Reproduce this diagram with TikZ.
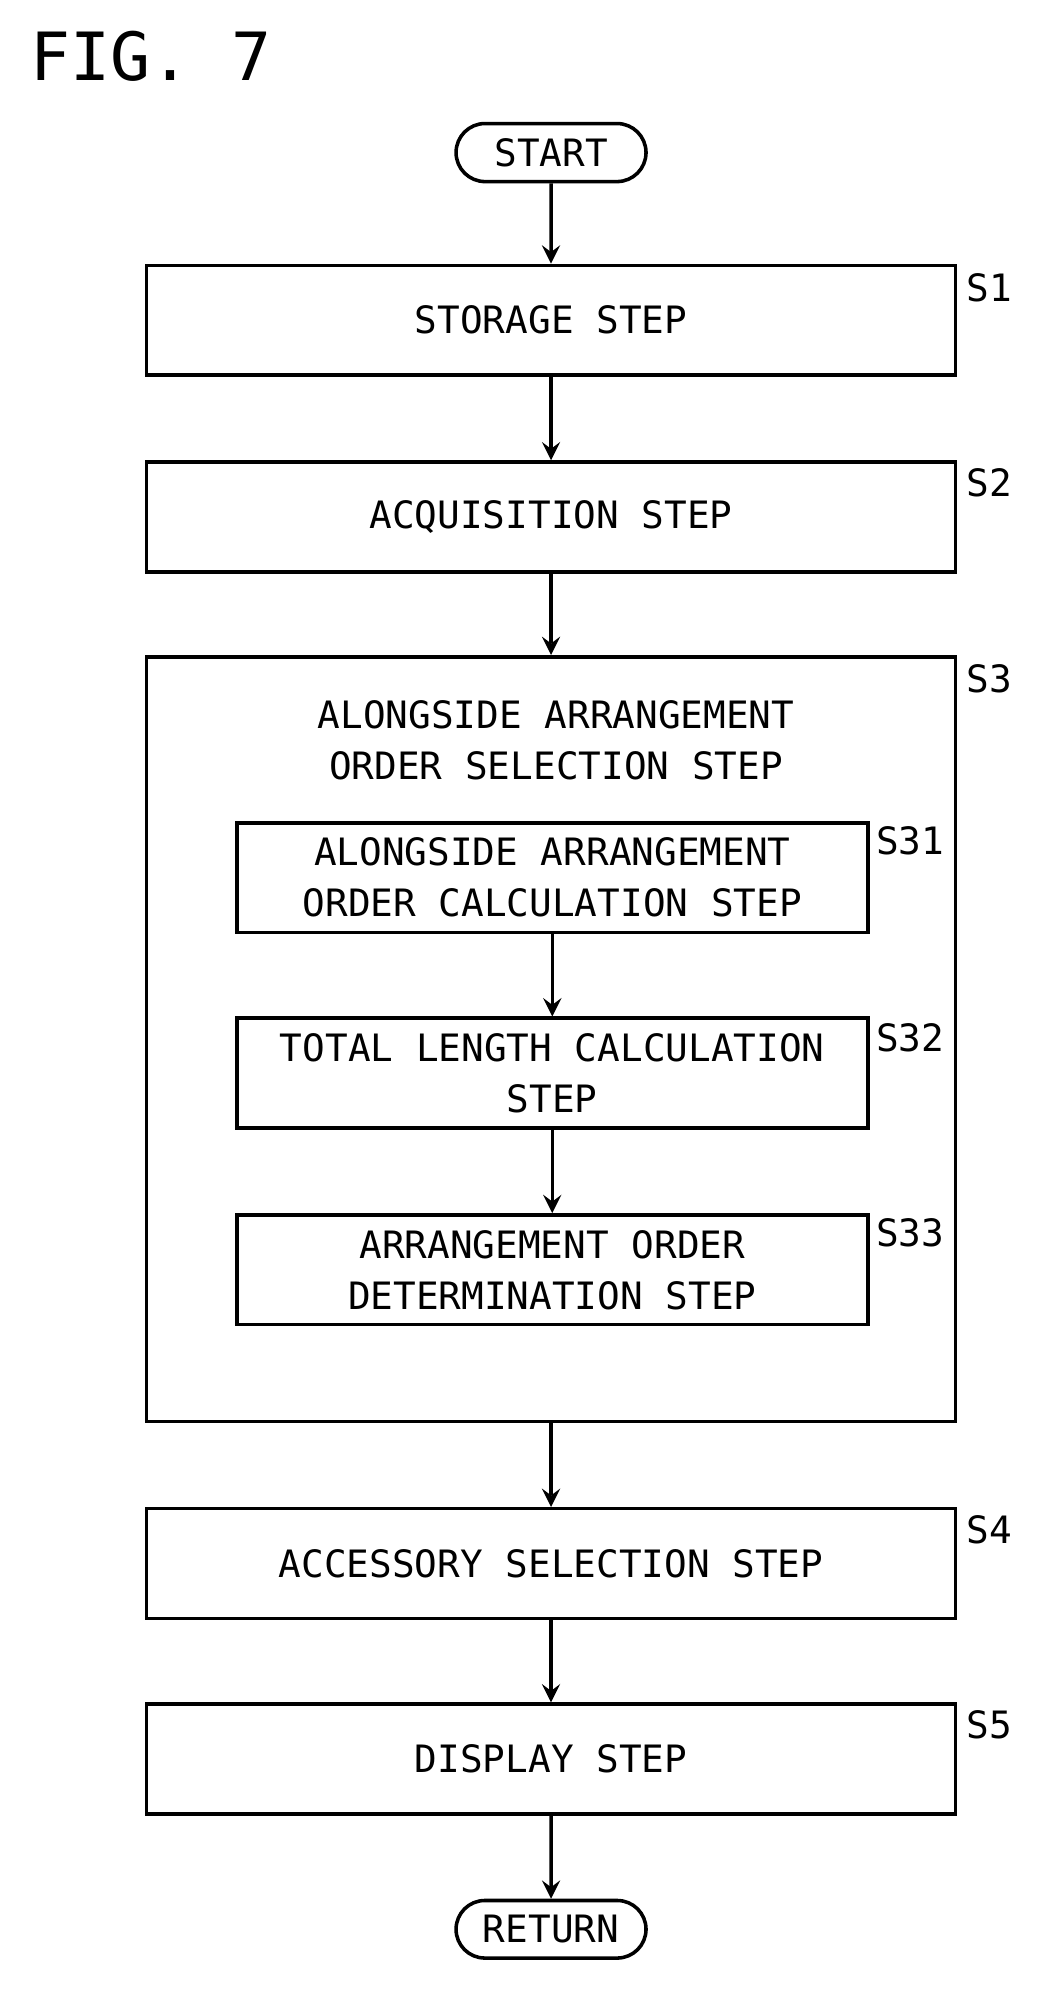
\documentclass[tikz,border=0pt]{standalone}
\usepackage{fontspec}
\setmonofont{DejaVu Sans Mono}
\usetikzlibrary{positioning,shapes.misc}
\tikzset{
  stepbox/.style={draw,thick,minimum width=6.41cm,minimum height=0.87cm,align=center},
  substep/.style={draw,thick,minimum width=5cm,minimum height=0.87cm,align=center},
  term/.style={draw,thick,rounded rectangle,minimum width=1.74cm,minimum height=0.42cm},
  lbl/.style={anchor=west,inner sep=0pt},
  flow/.style={->,>=stealth,thick}
}
\begin{document}
\begin{tikzpicture}[x=0.01cm,y=-0.01cm,font=\ttfamily\fontsize{8.5}{11.5}\selectfont]
  \useasboundingbox (0,0) rectangle (830,1598);
  \node[anchor=west,font=\ttfamily\fontsize{15}{18}\selectfont] (fig) at (12,45) {FIG. 7};
  \node[term]    (start) at (437,121)  {START};
  \node[stepbox] (s1)    at (437,254)  {STORAGE STEP};
  \node[stepbox] (s2)    at (437,410)  {ACQUISITION STEP};
  \node[stepbox,minimum height=6.06cm] (s3) at (437,824) {};
  \node (s3t) at (441,587) [align=center] {ALONGSIDE ARRANGEMENT\\ORDER SELECTION STEP};
  \node[substep] (s31)   at (438,696)  {ALONGSIDE ARRANGEMENT\\ORDER CALCULATION STEP};
  \node[substep] (s32)   at (438,851)  {TOTAL LENGTH CALCULATION\\STEP};
  \node[substep] (s33)   at (438,1007) {ARRANGEMENT ORDER\\DETERMINATION STEP};
  \node[stepbox] (s4)    at (437,1240) {ACCESSORY SELECTION STEP};
  \node[stepbox] (s5)    at (437,1395) {DISPLAY STEP};
  \node[term]    (ret)   at (437,1530) {RETURN};
  % step labels
  \node[lbl] (l1)  at (766,228)  {S1};
  \node[lbl] (l2)  at (766,383)  {S2};
  \node[lbl] (l3)  at (766,538)  {S3};
  \node[lbl] (l31) at (694,667)  {S31};
  \node[lbl] (l32) at (694,823)  {S32};
  \node[lbl] (l33) at (694,978)  {S33};
  \node[lbl] (l4)  at (766,1213) {S4};
  \node[lbl] (l5)  at (766,1368) {S5};
  % connectors
  \draw[flow] (start) -- (s1);
  \draw[flow] (s1) -- (s2);
  \draw[flow] (s2) -- (s3);
  \draw[flow] (s31) -- (s32);
  \draw[flow] (s32) -- (s33);
  \draw[flow] (s3) -- (s4);
  \draw[flow] (s4) -- (s5);
  \draw[flow] (s5) -- (ret);
\end{tikzpicture}
\end{document}
